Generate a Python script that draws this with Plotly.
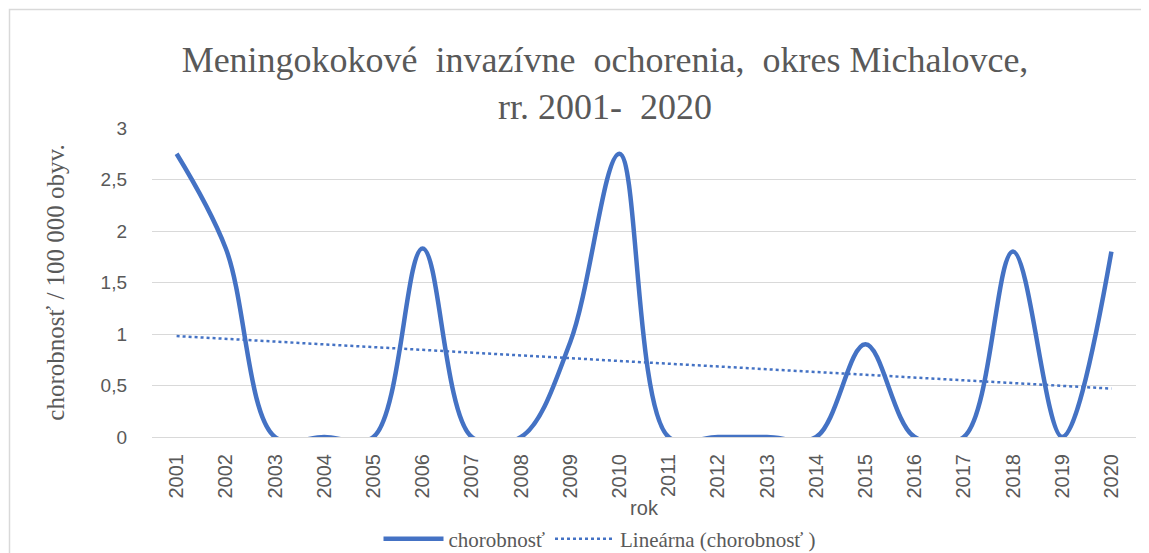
"""
    Meningokokove invazivne ochorenia, okres Michalovce, 2001-2020
"""
import plotly.graph_objects as go

YEARS = [str(y) for y in range(2001, 2021)]
RATES = [2.75, 1.83, 0, 0, 0, 1.83, 0, 0, 0.92, 2.75,
         0, 0, 0, 0, 0.9, 0, 0, 1.8, 0, 1.8]

# Linear trend end points
TREND_YEARS = ["2001", "2020"]
TREND_VALUES = [0.98, 0.47]

Y_TICKS = [0, 0.5, 1, 1.5, 2, 2.5, 3]
Y_TICK_TEXT = ["0", "0,5", "1", "1,5", "2", "2,5", "3"]

BLUE = "#4472C4"
GREY_TEXT = "#595959"
GRID = "#D9D9D9"
SERIF = "Liberation Serif, Times New Roman, serif"
SANS = "Liberation Sans, Arial, sans-serif"

# the page body has an 8px margin, so the figure is a bit smaller than the window
OFF = 8
W, H = 1149 - OFF, 553 - OFF
# plot area on screen: left 152, right 1136, top 128, bottom 437
L, T = 152 - OFF, 128 - OFF
R, B = W - (1136 - OFF), H - (437 - OFF)
PW, PH = W - L - R, H - T - B


def px_x(x):
    # screen x -> paper x
    return (x - OFF - L) / PW


def px_y(y):
    # screen y -> paper y
    return (H - B - (y - OFF)) / PH


fig = go.Figure()
fig.add_trace(
    go.Scatter(
        x=YEARS,
        y=RATES,
        mode="lines",
        name="chorobnosť",
        line=dict(color=BLUE, width=4.5, shape="spline", smoothing=1),
        hoverinfo="x+y",
    )
)
fig.add_trace(
    go.Scatter(
        x=TREND_YEARS,
        y=TREND_VALUES,
        mode="lines",
        name="Lineárna (chorobnosť )",
        line=dict(color=BLUE, width=2.5, dash="dot"),
    )
)

fig.update_layout(
    width=W,
    height=H,
    margin=dict(l=L, r=R, t=T, b=B),
    paper_bgcolor="white",
    plot_bgcolor="white",
    title=dict(
        text="Meningokokové\u00a0 invazívne\u00a0 ochorenia,\u00a0 okres Michalovce,<br>rr. 2001-\u00a0 2020",
        x=(605 - OFF) / W,
        xanchor="center",
        y=1 - 64 / H,
        yanchor="top",
        font=dict(family=SERIF, size=36, color=GREY_TEXT),
    ),
    xaxis=dict(
        type="category",
        categoryorder="array",
        categoryarray=YEARS,
        range=[-0.5, len(YEARS) - 0.5],
        tickangle=-90,
        tickfont=dict(family=SANS, size=20, color=GREY_TEXT),
        ticklabelstandoff=12,
        showgrid=False,
        showline=False,
        ticks="",
        automargin=False,
        title=dict(text="rok", font=dict(family=SANS, size=20, color=GREY_TEXT), standoff=12),
        fixedrange=True,
    ),
    yaxis=dict(
        range=[0, 3],
        tickvals=Y_TICKS,
        ticktext=Y_TICK_TEXT,
        tickfont=dict(family=SANS, size=19, color=GREY_TEXT),
        gridcolor=GRID,
        gridwidth=1,
        zeroline=True,
        zerolinecolor=GRID,
        zerolinewidth=1,
        showline=False,
        ticks="",
        ticklabelstandoff=24,
        automargin=False,
        title=dict(
            text="chorobnosť / 100 000 obyv.",
            font=dict(family=SERIF, size=25, color=GREY_TEXT),
            standoff=28,
        ),
        fixedrange=True,
    ),
    legend=dict(
        orientation="h",
        xref="container",
        yref="container",
        x=(600 - OFF) / W,
        xanchor="center",
        y=1 - (539 - OFF) / H,
        yanchor="middle",
        font=dict(family=SERIF, size=21, color=GREY_TEXT),
        itemwidth=60,
        bgcolor="rgba(0,0,0,0)",
    ),
    shapes=[
        dict(
            type="rect",
            xref="paper",
            yref="paper",
            x0=px_x(9.5),
            x1=px_x(1145),
            y0=px_y(600),
            y1=px_y(9.5),
            line=dict(color="#D9D9D9", width=1.5),
            layer="below",
        )
    ],
)

fig.write_html("out.html")
